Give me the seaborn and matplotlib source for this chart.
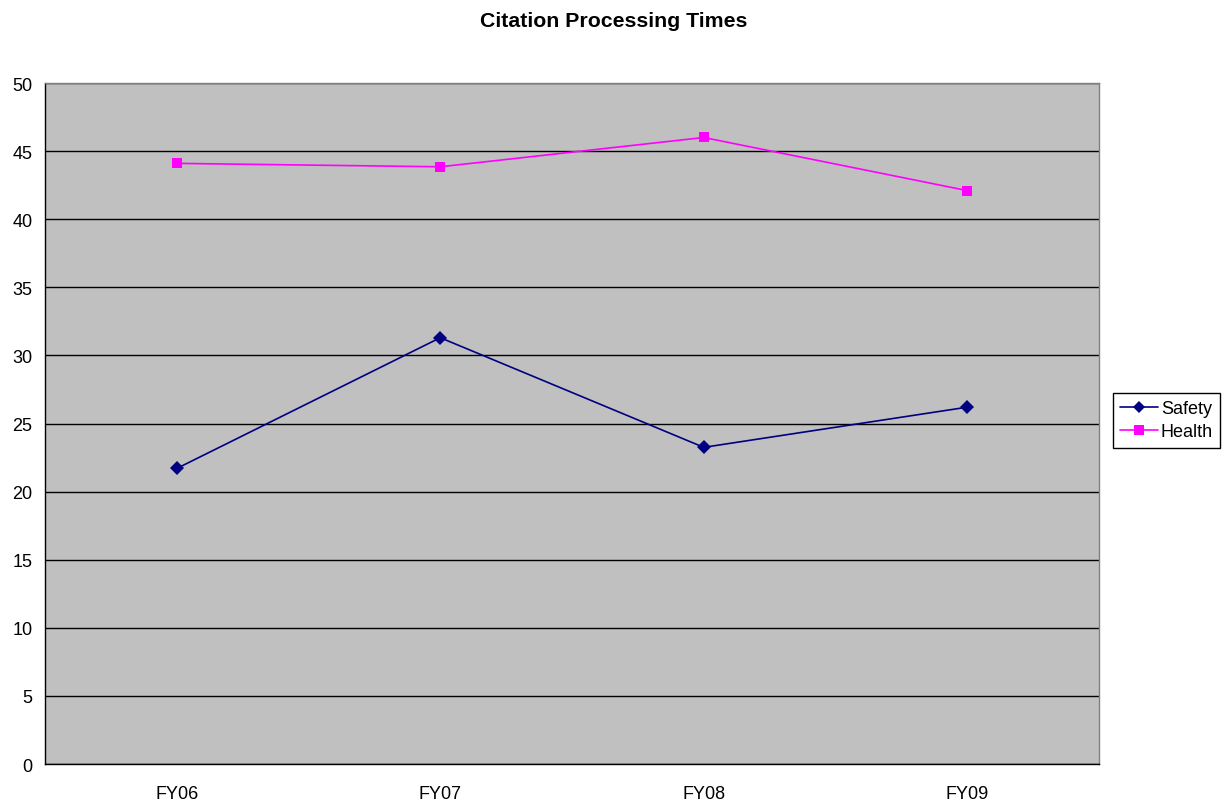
import matplotlib
matplotlib.use("Agg")
import matplotlib.pyplot as plt
import seaborn as sns
import pandas as pd
from matplotlib.lines import Line2D

# dados
anos = ['FY06', 'FY07', 'FY08', 'FY09']
safety = [21.7, 31.3, 23.25, 26.2]
health = [44.1, 43.85, 46.0, 42.1]

df = pd.DataFrame({
    'ano': list(range(len(anos))) * 2,
    'valor': safety + health,
    'serie': ['Safety'] * len(anos) + ['Health'] * len(anos),
})

sns.set_style("white")
plt.rcParams['font.family'] = ['Liberation Sans', 'DejaVu Sans']
plt.rcParams['text.color'] = 'black'
plt.rcParams['xtick.color'] = 'black'
plt.rcParams['ytick.color'] = 'black'

fig = plt.figure(figsize=(12.27, 8.04), dpi=100)
ax = fig.add_axes([0.0367, 0.0485, 0.859, 0.847])
ax.set_facecolor('#C0C0C0')

sns.lineplot(data=df, x='ano', y='valor', hue='serie', style='serie',
             markers={'Safety': 'D', 'Health': 's'}, dashes=False,
             palette={'Safety': '#000080', 'Health': '#FF00FF'},
             markersize=7, markeredgewidth=0, linewidth=1.2, ax=ax, legend=False)

ax.set_xlim(-0.5, 3.5)
ax.set_ylim(0, 50)
ax.set_yticks(range(0, 51, 5))
ax.set_xticks(range(len(anos)))
ax.set_xticklabels(anos)
ax.set_xticks([-0.5, 0.5, 1.5, 2.5, 3.5], minor=True)
ax.tick_params(axis='x', which='major', length=0, pad=15, labelsize=13)
ax.tick_params(axis='x', which='minor', length=5, direction='out', width=1, color='black')
ax.tick_params(axis='y', length=5, direction='out', width=1, color='black', labelsize=13, pad=4)
ax.yaxis.grid(True, color='black', linewidth=1)
ax.set_axisbelow(True)
ax.set_xlabel('')
ax.set_ylabel('')

ax.spines['left'].set_color('black')
ax.spines['bottom'].set_color('black')
ax.spines['top'].set_color('#808080')
ax.spines['right'].set_color('#808080')
for s in ax.spines.values():
    s.set_linewidth(1)
    s.set_visible(True)

fig.suptitle('Citation Processing Times', fontsize=15.3, fontweight='bold', y=0.985)

handles = [Line2D([], [], color='#000080', marker='D', markersize=6, markeredgewidth=0, linewidth=1.2),
           Line2D([], [], color='#FF00FF', marker='s', markersize=7, markeredgewidth=0, linewidth=1.2)]
leg = fig.legend(handles, ['Safety', 'Health'], loc='center left',
                 bbox_to_anchor=(0.907, 0.476), fontsize=13, frameon=True,
                 fancybox=False, edgecolor='black', framealpha=1,
                 handlelength=2.1, handletextpad=0.15, borderpad=0.4,
                 labelspacing=0.35, borderaxespad=0)
leg.get_frame().set_linewidth(1)

fig.savefig('out.png', dpi=100)
